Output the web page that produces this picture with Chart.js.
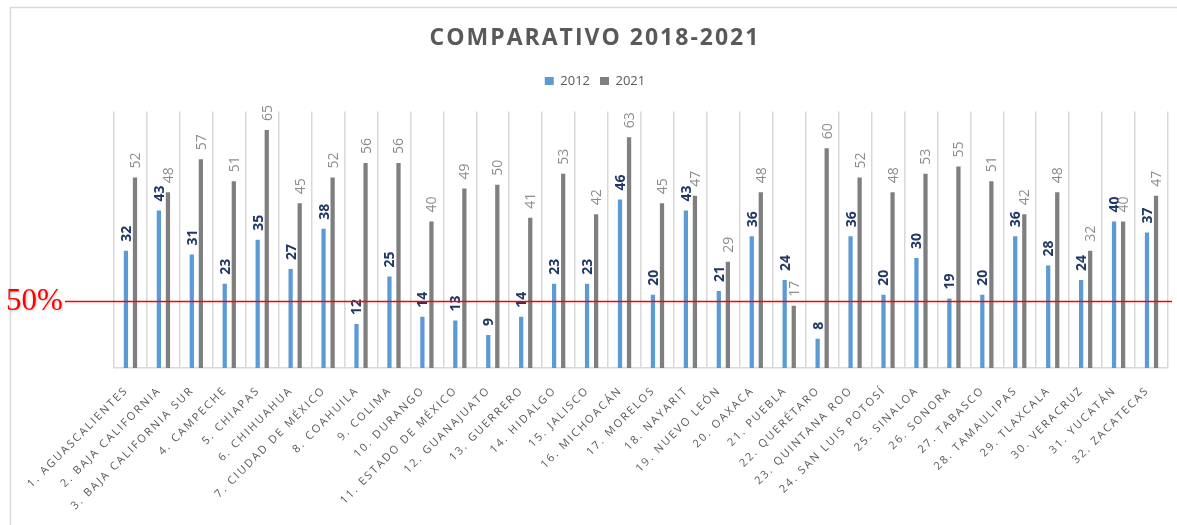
<!DOCTYPE html>
<html>
<head>
<meta charset="utf-8">
<script src="https://cdn.jsdelivr.net/npm/chart.js@4.4.1/dist/chart.umd.min.js"></script>
<style>
  html, body { margin: 0; padding: 0; background: #ffffff; }
  #wrap { width: 1177px; height: 525px; position: relative; }
</style>
</head>
<body>
<div id="wrap"><canvas id="grafica"></canvas></div>
<script>
// datos del grafico
const estados = [
  '1. AGUASCALIENTES', '2. BAJA CALIFORNIA', '3. BAJA CALIFORNIA SUR', '4. CAMPECHE',
  '5. CHIAPAS', '6. CHIHUAHUA', '7. CIUDAD DE MÉXICO', '8. COAHUILA', '9. COLIMA',
  '10. DURANGO', '11. ESTADO DE MÉXICO', '12. GUANAJUATO', '13. GUERRERO', '14. HIDALGO',
  '15. JALISCO', '16. MICHOACÁN', '17. MORELOS', '18. NAYARIT', '19. NUEVO LEÓN',
  '20. OAXACA', '21. PUEBLA', '22. QUERÉTARO', '23. QUINTANA ROO', '24. SAN LUIS POTOSÍ',
  '25. SINALOA', '26. SONORA', '27. TABASCO', '28. TAMAULIPAS', '29. TLAXCALA',
  '30. VERACRUZ', '31. YUCATÁN', '32. ZACATECAS'
];
const valores2012 = [32, 43, 31, 23, 35, 27, 38, 12, 25, 14, 13, 9, 14, 23, 23, 46,
                     20, 43, 21, 36, 24, 8, 36, 20, 30, 19, 20, 36, 28, 24, 40, 37];
const valores2021 = [52, 48, 57, 51, 65, 45, 52, 56, 56, 40, 49, 50, 41, 53, 42, 63,
                     45, 47, 29, 48, 17, 60, 52, 48, 53, 55, 51, 42, 48, 32, 40, 47];
const serie1 = '2012';
const serie2 = '2021';
const titulo = 'COMPARATIVO 2018-2021';
const marcaTexto = '50%';
const marcaValor = 18.4; // linea roja dibujada sobre la grafica

const canvas = document.getElementById('grafica');

// espaciado de letras como en el original (el canvas pierde el estado al redimensionar)
function espaciado(chart) {
  chart.ctx.letterSpacing = '2px';
}

// borde del area del grafico, linea roja y etiquetas de valores
const extras = {
  id: 'extras',
  beforeInit(chart) {
    const leyenda = chart.legend;
    const fitOriginal = leyenda.fit;
    const drawOriginal = leyenda.draw;
    // la leyenda va sin espaciado y con mas aire debajo
    leyenda.fit = function () {
      const c = this.ctx;
      c.letterSpacing = '0px';
      fitOriginal.call(this);
      c.letterSpacing = '2px';
      this.height += 14;
    };
    leyenda.draw = function () {
      const c = this.ctx;
      c.letterSpacing = '0px';
      drawOriginal.call(this);
      c.letterSpacing = '2px';
    };
  },
  beforeUpdate: espaciado,
  beforeLayout: espaciado,
  beforeDraw(chart) {
    espaciado(chart);
    const c = chart.ctx;
    c.save();
    c.strokeStyle = '#d9d9d9';
    c.lineWidth = 1.5;
    c.strokeRect(10.5, 7.5, 1200, 600);
    c.restore();
  },
  afterDatasetsDraw(chart) {
    const c = chart.ctx;
    c.save();
    c.letterSpacing = '0px';
    const colores = ['#1f3864', '#8c8c8c'];
    const pesos = ['bold', 'normal'];
    chart.data.datasets.forEach((ds, i) => {
      const meta = chart.getDatasetMeta(i);
      meta.data.forEach((bar, j) => {
        c.save();
        c.translate(bar.x + 1, bar.y - 9);
        c.rotate(-Math.PI / 2);
        c.font = pesos[i] + ' 14px "Open Sans"';
        c.fillStyle = colores[i];
        c.textAlign = 'left';
        c.textBaseline = 'middle';
        c.fillText(String(ds.data[j]), 0, 0);
        c.restore();
      });
    });
    // linea roja del 50%
    const y = Math.round(chart.scales.y.getPixelForValue(marcaValor)) + 0.5;
    c.strokeStyle = '#ff0000';
    c.lineWidth = 1.5;
    c.beginPath();
    c.moveTo(65, y);
    c.lineTo(1172, y);
    c.stroke();
    c.font = '31px "Liberation Serif"';
    c.fillStyle = '#ff0000';
    c.textAlign = 'left';
    c.textBaseline = 'middle';
    c.shadowColor = 'rgba(0,0,0,0.25)';
    c.shadowBlur = 3;
    c.shadowOffsetX = 1;
    c.shadowOffsetY = 1;
    c.fillText(marcaTexto, 6, y);
    c.restore();
  }
};

const data = {
  labels: estados,
  datasets: [
    { label: serie1, data: valores2012, backgroundColor: '#5b9bd5', borderWidth: 0 },
    { label: serie2, data: valores2021, backgroundColor: '#7f7f7f', borderWidth: 0 }
  ]
};

const config = {
  type: 'bar',
  data: data,
  options: {
    responsive: true,
    maintainAspectRatio: false,
    animation: false,
    categoryPercentage: 0.55,
    barPercentage: 0.47,
    layout: { padding: { left: 22, right: 9, top: 0, bottom: 0 } },
    plugins: {
      title: {
        display: true,
        text: titulo,
        color: '#595959',
        font: { family: 'Open Sans', size: 23, weight: 'bold' },
        padding: { top: 25, bottom: 12 }
      },
      legend: {
        display: true,
        position: 'top',
        labels: {
          boxWidth: 9,
          boxHeight: 8,
          padding: 10,
          color: '#595959',
          font: { family: 'Open Sans', size: 13 }
        }
      },
      tooltip: { enabled: false }
    },
    scales: {
      x: {
        grid: { color: '#d9d9d9', lineWidth: 1.5, drawTicks: false, offset: true },
        border: { color: '#d9d9d9', width: 1.5 },
        ticks: {
          autoSkip: false,
          minRotation: 45,
          maxRotation: 45,
          padding: 16,
          labelOffset: -4,
          color: '#595959',
          font: { family: 'Open Sans', size: 11 }
        },
        afterFit(scale) { scale.height = 157; }
      },
      y: {
        display: true,
        min: 0,
        max: 70,
        grid: { display: false },
        border: { display: false },
        ticks: { display: false },
        afterFit(scale) { scale.width = 92; }
      }
    }
  },
  plugins: [extras]
};

const grafica = new Chart(canvas, config);
</script>
</body>
</html>
